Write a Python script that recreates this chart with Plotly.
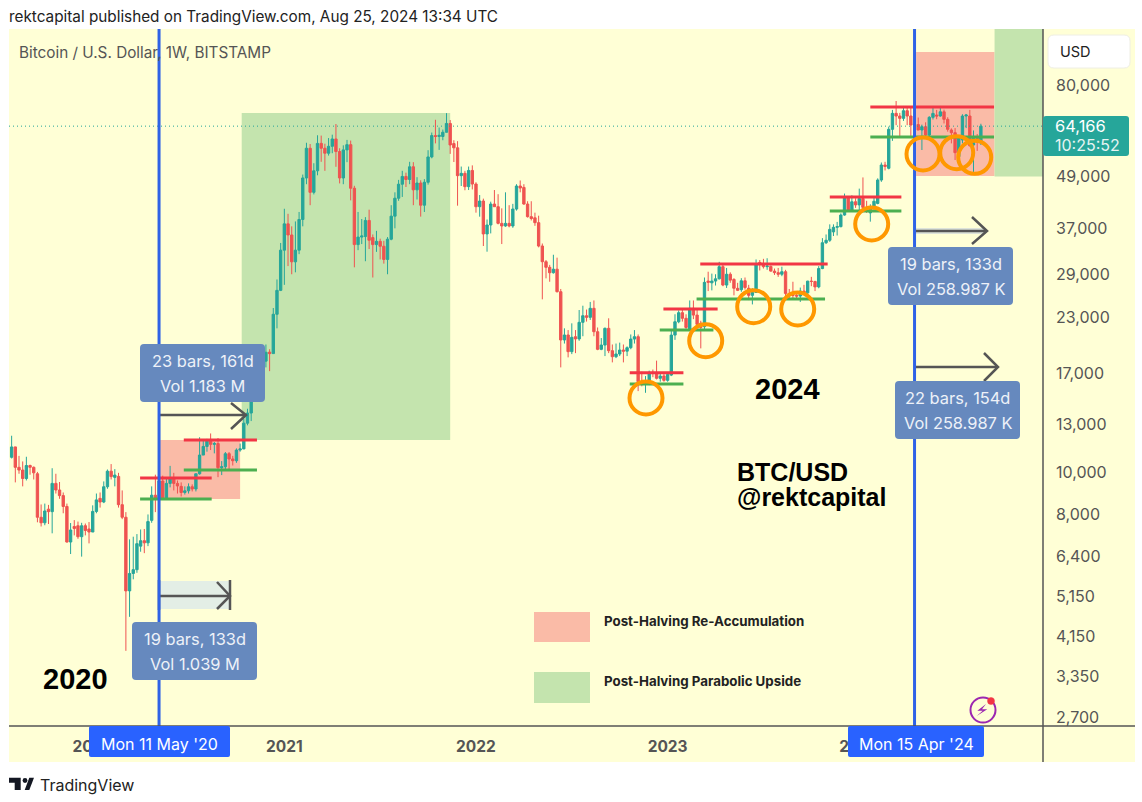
import numpy as np
import pandas as pd
import plotly.graph_objects as go

# ---------- weekly candles ----------
first_week = "2019-08-05"
opens = [
10870,11490,10300,10150,9700,10400,10300,9950,7880,7650,
8230,8120,9450,9120,8850,8350,6900,7500,7530,7100,
7530,7400,7280,8130,8720,8550,9280,10090,9760,9810,
8430,7880,5310,5830,5950,6750,6950,6870,7750,8870,
8700,9570,8700,9450,9730,9450,9300,9000,9080,9280,
9170,9950,11000,11520,11850,11650,11700,10280,10330,11080,
10770,10670,11300,11370,13050,13780,15480,15960,18480,18200,
19100,18950,23400,26600,33000,38000,35800,31000,33000,38900,
48600,57000,45000,50500,58500,57000,55500,57600,59900,56000,
48600,56500,58100,46000,34000,35400,35500,38700,35300,34000,
34600,33700,31400,35000,39600,43600,47000,49000,48200,51600,
45600,47300,42000,47500,54400,61000,60700,60700,62100,65100,
58440,57130,49200,49820,46390,50600,47050,41660,42950,36000,
37770,42260,41660,38100,37570,38100,37570,41140,46550,46200,
42260,39490,39250,38240,33740,31020,30100,29240,29800,26410,
20390,20940,19150,20750,20500,22410,23220,23020,24160,21310,
19390,19840,21700,19250,18640,18910,19320,19200,19560,20490,
20750,16300,16280,16400,17140,17100,16600,16810,16420,16890,
20930,22480,23600,22900,21500,24150,23300,22300,21890,27960,
27700,27960,28300,30200,27370,29000,28200,26890,26700,28000,
26900,25900,26300,30900,30600,30200,30250,29500,29250,29000,
29400,26170,26000,25900,25800,26500,26250,27950,27900,27100,
29900,34340,34800,36400,37300,37430,39840,43950,40920,42780,
42060,43540,41510,40300,41660,42400,48070,52100,51190,63080,
68720,67750,66900,69700,67750,64550,64700,62850,63980,61190,
67270,68100,67750,69300,66550,62850,61950,54480,59580,67750,
67750,58000,60100,58900]
highs = [
12200,11500,10950,10630,10900,10450,10350,10050,8440,8480,
8420,10250,9950,9520,9000,8480,7640,7760,7700,7650,
7620,7680,8400,8950,9000,9550,10180,10480,10200,10000,
9100,8100,7000,7100,7200,7380,7400,8000,9300,9900,
10100,9850,9750,10380,10000,9600,9500,9300,9450,9400,
9950,12100,11950,12000,12350,11800,12050,10650,11180,11180,
10950,11400,11700,13350,14100,15950,16500,18950,19450,19900,
19400,24200,28200,34300,41200,40100,37500,38500,40500,49500,
58700,58300,52600,61100,61000,58400,60200,61300,64900,57000,
57900,59600,59400,46600,40500,39000,39400,41000,35900,36600,
35100,34700,35400,42000,45000,48100,50500,50000,53000,52900,
48800,48000,48300,56400,62000,66400,63700,63000,68800,66300,
59500,59200,51670,50500,51670,52000,47500,44350,43500,38900,
42800,45560,44550,41300,45000,42000,42300,47000,47950,47000,
42900,42900,40350,39700,34200,31300,30500,32200,31700,26800,
21700,21500,22290,21500,23940,24500,24000,25000,25200,21800,
20600,21800,22900,19900,20000,20100,19900,19700,21000,21500,
21000,17200,16800,17300,17400,18250,17000,17000,17100,21400,
23400,23900,24200,23400,25200,25200,24000,22600,28500,29400,
29100,29000,31000,30500,30000,29300,28400,27700,28400,28500,
27400,26900,31400,31300,31500,31600,30400,29900,30000,30200,
29700,26800,27860,26400,27000,27400,28000,28600,28000,30300,
35200,35900,37900,37900,38400,40200,44700,44000,44300,43600,
45900,48740,43000,42200,43900,48500,52800,53000,64000,70000,
73420,68900,71500,71000,71200,66900,67200,64700,65500,67700,
71500,70000,71500,70100,67300,63400,63500,60600,68400,68500,
70000,62700,61500,65000]
lows = [
10800,9500,9950,9300,9600,9900,9650,7670,7500,7550,
7600,7230,8950,8700,8050,6880,6470,7150,7020,6380,
7150,6850,7280,8050,8300,8500,9180,9650,9300,8300,
7800,3850,4620,5650,5850,6550,6500,6750,7650,8100,
8150,8650,8650,9250,9100,8950,8810,8900,8950,9050,
9050,9900,11000,11200,11300,11100,9770,9880,10200,10150,
10400,10550,11200,11350,12900,13200,14900,15800,16200,17600,
17250,18950,21700,26500,27400,30300,29000,29300,32300,37500,
47000,42000,44500,49300,53000,50500,54800,55500,51600,47200,
47000,52900,43100,30100,33000,34100,31100,33200,28500,32700,
31400,30700,29000,34800,37100,43000,43900,46300,47000,42000,
43300,39500,40500,46900,54000,58500,56500,59500,62000,55300,
52940,41890,46550,45500,45560,45700,40350,39490,33740,32730,
36100,41700,37900,34100,37400,37300,37200,40800,45000,42100,
39300,38700,37600,33500,25350,28370,27860,29100,26300,17600,
20000,18570,18900,19000,20300,20800,22500,22700,20800,19300,
19300,18700,19000,18080,18500,18700,18080,18700,19400,20000,
15500,15900,15360,16000,16700,16500,16300,16300,16300,16800,
20400,22300,22500,21500,21400,22800,21900,19490,21500,26500,
26600,27300,28200,27200,26950,27700,25900,26500,26400,26700,
25250,24670,26250,29600,29900,29700,29400,28900,28600,28700,
25300,25400,25300,25300,25000,26000,25900,27200,26500,26900,
29800,34100,34500,35600,35700,37300,39700,40500,40600,41400,
40800,41500,40300,38450,41000,42200,47600,50600,50900,59300,
64500,60600,66000,64500,60700,59600,62800,56460,60200,60800,
66500,66600,67500,65100,62300,58500,53510,54000,58500,63500,
57500,49370,56200,58000]
closes = [
11490,10300,10150,9700,10400,10300,10000,7880,7650,8150,
8120,9450,9120,8850,8350,6900,7360,7420,7100,7530,
7340,7280,8130,8650,8550,9280,10090,9800,9880,8430,
7880,5310,5830,5950,6840,6950,6870,7700,8870,8700,
9570,8700,9450,9730,9450,9320,9000,9080,9280,9170,
9950,11000,11520,11850,11650,11700,10280,10330,11080,10770,
10670,11300,11370,13050,13780,15480,15960,18480,18200,19090,
18950,23400,26600,33000,38000,35800,31000,33000,38900,48600,
57000,45000,50500,58500,57000,55500,57600,59900,56000,48600,
56500,58100,46000,34000,35400,35600,38700,34800,34000,34600,
33700,31400,35000,39600,43600,47000,49000,48200,51600,45600,
47300,42000,47500,54400,61000,60700,61100,62100,65100,58000,
57130,49200,49820,46390,50600,47050,41660,42950,36000,37770,
42260,41660,38100,37570,38100,37570,41140,46550,46050,42260,
39490,39100,38240,33740,31020,30100,29240,29800,26410,20390,
20940,19150,20680,20500,22410,23220,23020,24160,21310,19390,
19840,21700,19250,18640,18910,19320,19200,19560,20490,20750,
16300,16280,16400,17140,17100,16600,16800,16420,16950,20930,
22480,23600,22900,21800,24150,23300,22170,21810,27770,27770,
27960,28300,30200,27370,29000,28100,26900,26600,28000,27000,
25900,26300,30500,30570,30200,30300,29500,29250,29000,29400,
26170,26000,25900,25800,26500,26250,27950,27900,27100,29900,
34340,34800,36890,37300,37450,39840,43950,40920,42780,42060,
43540,41510,41000,41660,42900,48070,52100,51700,63080,68720,
67750,66900,69700,67750,64550,64700,62850,63980,61190,67270,
68700,67750,69300,66550,63080,61950,55660,60100,67750,68100,
57780,60700,58900,64166]
last_price = 64166

# ---------- price axis ----------
price_ticks = [80000,49000,37000,29000,23000,17000,13000,10000,8000,6400,5150,4150,3350,2700]
year_ticks = ["2020-01-06","2021-01-04","2022-01-03","2023-01-02","2024-01-01"]
year_labels = ["2020","2021","2022","2023","2024"]

# ---------- drawings anchored on the chart ----------
halvings = ["2020-05-11","2024-04-15"]
resistance = [("2020-04-05","2020-08-19",9725),("2020-06-27","2020-11-13",11920),
              ("2022-10-22","2023-02-01",17100),("2022-12-25","2023-04-07",24070),
              ("2023-03-05","2023-11-02",30640),("2023-11-06","2024-03-21",43880),
              ("2024-01-22","2024-09-13",71100)]
support = [("2020-04-05","2020-08-19",8690),("2020-06-27","2020-11-13",10150),
           ("2022-10-22","2023-02-01",16100),("2022-12-18","2023-03-30",21500),
           ("2023-02-26","2023-10-28",25390),("2023-11-06","2024-03-21",40700),
           ("2024-01-22","2024-09-13",60500)]
reaccum_zones = [("2020-05-13","2020-10-12",11920,8690),("2024-04-18","2024-09-14",95480,49110)]
parabolic_zones = [("2020-10-15","2021-11-15",68850,11920),("2024-09-14","2024-12-15",108030,49000)]

W, H = 1142, 802
L, T, R, B = 9, 29, 1043, 726
def X(p): return (p - L) / (R - L)
def Y(p): return (B - p) / (B - T)

TEAL, RED = "#26A69A", "#EF5350"
BLUE = "#2F62E6"
GREY = "#555555"
shapes = []

def rrect(x0, y0, x1, y1, r=4):
    xs, ys = r / (R - L), r / (B - T)
    a, b, c, d = X(x0), X(x1), Y(y0), Y(y1)
    return (f"M{a+xs},{c} L{b-xs},{c} Q{b},{c} {b},{c-ys} L{b},{d+ys} Q{b},{d} {b-xs},{d} "
            f"L{a+xs},{d} Q{a},{d} {a},{d+ys} L{a},{c-ys} Q{a},{c} {a+xs},{c} Z")

def poly(pts, close=False):
    s = "M" + " L".join(f"{X(a)},{Y(b)}" for a, b in pts)
    return s + (" Z" if close else "")

def paper_rect(x0, y0, x1, y1, color, layer="above"):
    shapes.append(dict(type="rect", xref="paper", yref="paper", x0=X(x0), x1=X(x1), y0=Y(y0), y1=Y(y1),
                       fillcolor=color, line_width=0, layer=layer))

def paper_path(path, fill=None, line=None, width=0, layer="above"):
    shapes.append(dict(type="path", xref="paper", yref="paper", path=path,
                       fillcolor=fill or "rgba(0,0,0,0)",
                       line=dict(color=line or "rgba(0,0,0,0)", width=width), layer=layer))

def paper_line(x0, y0, x1, y1, color=GREY, width=1):
    shapes.append(dict(type="line", xref="paper", yref="paper", x0=X(x0), x1=X(x1), y0=Y(y0), y1=Y(y1),
                       line=dict(color=color, width=width)))

def circle(cx, cy, r, color, width, fill="rgba(0,0,0,0)"):
    shapes.append(dict(type="circle", xref="paper", yref="paper", x0=X(cx-r), x1=X(cx+r), y0=Y(cy-r), y1=Y(cy+r),
                       line=dict(color=color, width=width), fillcolor=fill))

# panel
paper_rect(9, 29, 1135, 762, "#FFFFD6", layer="below")

# zones
for x0, x1, p0, p1 in reaccum_zones:
    shapes.append(dict(type="rect", xref="x", yref="y", x0=x0, x1=x1, y0=p0, y1=p1,
                       fillcolor="#FABBA7", line_width=0, layer="below"))
for x0, x1, p0, p1 in parabolic_zones:
    shapes.append(dict(type="rect", xref="x", yref="y", x0=x0, x1=x1, y0=p0, y1=p1,
                       fillcolor="#C4E4AE", line_width=0, layer="below"))

# last price line
shapes.append(dict(type="line", xref="paper", yref="y", x0=0, x1=1, y0=last_price, y1=last_price,
                   line=dict(color=TEAL, width=1, dash="1px,3px"), layer="above"))

# levels
for x0, x1, p in resistance:
    shapes.append(dict(type="line", xref="x", yref="y", x0=x0, x1=x1, y0=p, y1=p, line=dict(color="#F23645", width=3)))
for x0, x1, p in support:
    shapes.append(dict(type="line", xref="x", yref="y", x0=x0, x1=x1, y0=p, y1=p, line=dict(color="#4CAF50", width=3)))

# date range bands and arrows
paper_rect(160, 581, 230, 609, "#E3EEE6")
paper_rect(916, 228, 986, 234, "#DDE3DA")
paper_line(159, 415, 245, 415, GREY, 2.5)
paper_path(poly([(231,403),(246,415),(231,429)]), line=GREY, width=2.5)
paper_line(159, 596, 229, 596, GREY, 2.5)
paper_line(230, 580, 230, 610, GREY, 2.5)
paper_line(159, 580, 159, 610, GREY, 2.5)
paper_path(poly([(217,582),(230,596),(217,609)]), line=GREY, width=2.5)
paper_line(915, 231, 986, 231, GREY, 2.5)
paper_path(poly([(972,217),(987,231),(972,244)]), line=GREY, width=2.5)
paper_line(915, 367, 997, 367, GREY, 2.5)
paper_path(poly([(984,353),(998,367),(984,381)]), line=GREY, width=2.5)

# halving lines
for d in halvings:
    shapes.append(dict(type="line", xref="x", yref="paper", x0=d, x1=d, y0=0, y1=1, line=dict(color=BLUE, width=3)))

# orange circles
for cx, cy in [(646,398),(705.7,340.7),(753.7,306.7),(797.7,309),(871.7,224),(923,154),(956.7,152.7),(974.7,157.3)]:
    circle(cx, cy, 16.5, "#FF9800", 4)

# tooltip boxes
boxes = [(140,344,265,402,"23 bars, 161d","Vol 1.183 M"),
         (132,622,257,680,"19 bars, 133d","Vol 1.039 M"),
         (888,247,1013,305,"19 bars, 133d","Vol 258.987 K"),
         (895,381,1020,439,"22 bars, 154d","Vol 258.987 K")]
for b in boxes:
    paper_path(rrect(b[0], b[1], b[2], b[3]), fill="#6689BE")

# legend swatches
paper_rect(534, 612, 590, 642, "#FABBA7")
paper_rect(534, 672, 590, 703, "#C4E4AE")

# axis frame
paper_line(9, 726, 1135, 726, GREY, 1.5)
paper_line(1043, 29, 1043, 762, GREY, 1.5)

# date labels, price label, currency button
paper_path(rrect(89, 726, 230, 757, 2), fill="#2962FF")
paper_path(rrect(848, 726, 984, 757, 2), fill="#2962FF")
paper_path(rrect(1043, 116, 1129, 156, 3), fill=TEAL)
paper_path(rrect(1048, 35, 1130, 68, 6), fill="#FFFFFF", line="#EEEEE4", width=1)

# bolt icon
circle(983, 710, 12.5, "#9C27B0", 2)
paper_path(poly([(986,704),(977.3,710.7),(982.7,710.7),(976.7,716),(987.3,709.3),(982,709.3)], True), fill="#9C27B0")
circle(991, 701, 3.5, "#F23645", 0.5, fill="#F23645")

# TradingView logo
paper_path(poly([(9,777.7),(20.7,777.7),(20.7,790),(14.7,790),(14.7,782.7),(9,782.7)], True), fill="#131722")
circle(25, 780.5, 2.4, "#131722", 0, fill="#131722")
paper_path(poly([(29.3,777.7),(34,777.7),(29.3,790),(24.7,790)], True), fill="#131722")

# ---------- texts ----------
FONT = "Inter"
ann = []
def text(x, y, s, size=15, color="#333333", anchor="left", family=FONT):
    ann.append(dict(xref="paper", yref="paper", x=X(x), y=Y(y), text=s, showarrow=False, xanchor=anchor,
                    yanchor="middle", font=dict(family=family, size=size, color=color), borderpad=0, borderwidth=0))

text(9, 17, "rektcapital published on TradingView.com, Aug 25, 2024 13:34 UTC", 15.3, "#222222")
text(19, 52.5, "Bitcoin / U.S. Dollar, 1W, BITSTAMP", 15.3, "#555555")
ARIAL = "Liberation Sans"
text(43, 679, "<b>2020</b>", 29, "#000000", family=ARIAL)
text(755, 389, "<b>2024</b>", 29, "#000000", family=ARIAL)
text(737, 472, "<b>BTC/USD</b>", 25, "#000000", family=ARIAL)
text(737, 497, "<b>@rektcapital</b>", 25, "#000000", family=ARIAL)
text(604, 621, "<b>Post-Halving Re-Accumulation</b>", 13.3, "#222222")
text(604, 681, "<b>Post-Halving Parabolic Upside</b>", 13.3, "#222222")
for b in boxes:
    cx = (b[0] + b[2]) / 2
    text(cx, b[1] + 17, b[4], 16.4, "#EDF1F8", "center")
    text(cx, b[1] + 42, b[5], 16.4, "#EDF1F8", "center")
text(159.5, 744, "Mon 11 May '20", 16, "#FFFFFF", "center")
text(916, 744, "Mon 15 Apr '24", 16, "#FFFFFF", "center")
text(1055, 126, "64,166", 16.5, "#FFFFFF")
text(1055, 145, "10:25:52", 16, "#E6F4F2")
text(1060, 51, "USD", 14.5, "#222222")
text(40, 785, "TradingView", 16, "#222222")

# ---------- figure ----------
weeks = pd.date_range(first_week, periods=len(closes), freq="7D")
fig = go.Figure(go.Candlestick(
    x=weeks, open=opens, high=highs, low=lows, close=closes,
    increasing=dict(line=dict(color=TEAL, width=1), fillcolor=TEAL),
    decreasing=dict(line=dict(color=RED, width=1), fillcolor=RED),
    whiskerwidth=0, showlegend=False, name="BTC/USD"))

fig.update_layout(
    width=W, height=H, autosize=False,
    margin=dict(l=L, r=W-R, t=T, b=H-B, pad=0),
    paper_bgcolor="#FFFFFF", plot_bgcolor="rgba(0,0,0,0)",
    showlegend=False, shapes=shapes, annotations=ann,
    font=dict(family=FONT), boxgap=0.2, boxgroupgap=0.2,
    xaxis=dict(type="date", range=["2019-07-31","2024-12-15"], rangeslider=dict(visible=False),
               tickmode="array", tickvals=year_ticks, ticktext=[f"<b>{y}</b>" for y in year_labels],
               showgrid=False, zeroline=False, showline=False, ticks="", ticklen=0, ticklabelstandoff=9,
               tickfont=dict(family=FONT, size=15.5, color=GREY)),
    yaxis=dict(type="log", side="right", range=[float(np.log10(2573)), float(np.log10(108030))],
               tickmode="array", tickvals=price_ticks, ticktext=[f"{v:,}" for v in price_ticks],
               showgrid=False, zeroline=False, showline=False, ticks="", ticklabelstandoff=12,
               tickfont=dict(family=FONT, size=16, color=GREY)),
)
fig.write_html("out.html", config=dict(displayModeBar=False),
               post_script="document.body.style.margin='0';document.documentElement.style.overflow='hidden';")
